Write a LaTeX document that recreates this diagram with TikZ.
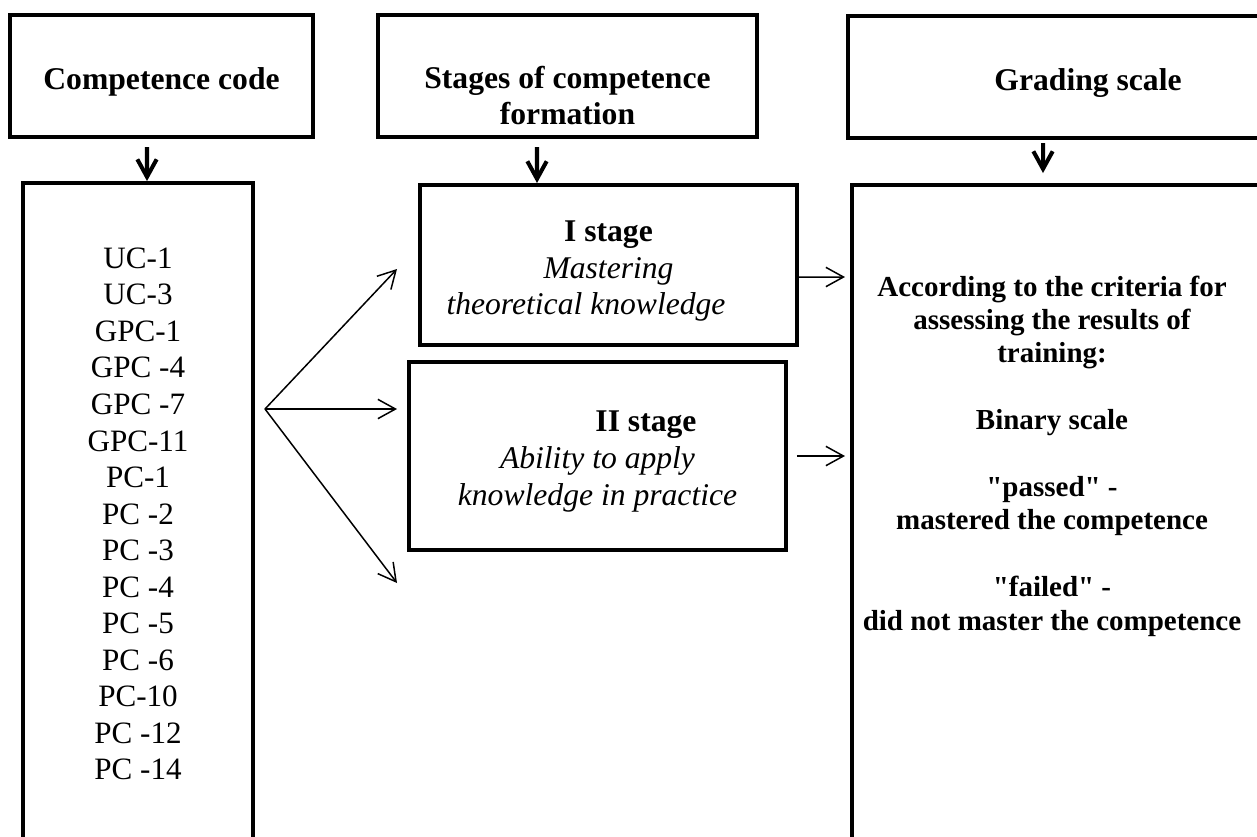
\documentclass[tikz,border=0pt]{standalone}
\usepackage{fontspec}
\setmainfont{Liberation Serif}[Ligatures=TeXOff]
\usetikzlibrary{arrows.meta}
\tikzstyle{headbox} = [rectangle, draw=black, line width=2.3pt, minimum height=2.44cm, align=center, font=\fontsize{18}{20.8}\selectfont\bfseries]
\tikzstyle{stagebox} = [rectangle, draw=black, line width=2.3pt, minimum width=7.54cm, align=center, font=\fontsize{18}{20.8}\selectfont]
\tikzstyle{openbox} = [rectangle, draw=black, line width=2.3pt]
\tikzstyle{downarrow} = [line width=2.3pt, -{Straight Barb[length=10pt,width=11pt]}]
\tikzstyle{arrow} = [line width=0.85pt, -{Straight Barb[length=10pt,width=11pt]}]

\begin{document}
\begin{tikzpicture}[x=0.02cm, y=-0.02cm]
\useasboundingbox (0,0) rectangle (1257,836);
\fill [white] (0,0) rectangle (1257,836);
\clip (0,0) rectangle (1257,836);

\node [headbox, minimum width=6.06cm] (codehead) at (161.5,76) {\rule{0pt}{19pt}Competence code};
\node [headbox, minimum width=7.58cm] (stagehead) at (567.5,76) {\rule{0pt}{35pt}Stages of competence\\formation};
\node [headbox, minimum width=9.6cm] (gradehead) at (1088,77) {\rule{0pt}{19pt}Grading scale};

\node [openbox, minimum width=4.6cm, minimum height=13.24cm, align=center, font=\fontsize{17.7}{20.8}\selectfont] (codelist) at (138,514)
  {UC-1\\UC-3\\GPC-1\\GPC -4\\GPC -7\\GPC-11\\PC-1\\PC -2\\PC -3\\PC -4\\PC -5\\PC -6\\PC-10\\PC -12\\PC -14};

\node [stagebox, minimum height=3.2cm] (stageone) at (608.5,265)
  {\rule{0pt}{19pt}\textbf{I stage}\\\textit{Mastering}\\\textit{theoretical knowledge}\hspace*{0.9cm}};
\node [stagebox, minimum height=3.76cm] (stagetwo) at (597.5,456)
  {\rule{0pt}{18pt}\hspace*{1.94cm}\textbf{II stage}\\\textit{Ability to apply}\\\textit{knowledge in practice}};

\node [openbox, minimum width=9.56cm, minimum height=14.3cm] (scalebox) at (1091,542.5) {};
\node [align=center, font=\fontsize{16.5}{19}\selectfont\bfseries] (criteria) at (1052,456)
  {According to the criteria for\\assessing the results of\\training:\\[19pt]Binary scale\\[19pt]"passed" -\\mastered the competence\\[19pt]"failed" -\\did not master the competence};

% arrows between the columns
\draw [downarrow] ([xshift=-0.29cm,yshift=-0.16cm]codehead.south) -- ([xshift=0.18cm]codelist.north);
\draw [downarrow] ([xshift=-0.61cm,yshift=-0.16cm]stagehead.south) -- ([xshift=-1.43cm]stageone.north);
\draw [downarrow] ([xshift=-0.9cm,yshift=-0.06cm]gradehead.south) -- ([xshift=-0.96cm,yshift=0.2cm]scalebox.north);

\coordinate (fan) at (265,409);
\coordinate (upper) at (397,269);
\coordinate (middle) at (397,409);
\coordinate (lower) at (397,583);
\draw [arrow] (fan) -- (upper);
\draw [arrow] (fan) -- (middle);
\draw [arrow] (fan) -- (lower);

\coordinate (toscaleone) at (845,277);
\coordinate (toscaletwo) at (845,456);
\draw [arrow] ([yshift=-0.24cm]stageone.east) -- (toscaleone);
\draw [arrow, shorten <=0.18cm] (stagetwo.east) -- (toscaletwo);

\end{tikzpicture}
\end{document}
